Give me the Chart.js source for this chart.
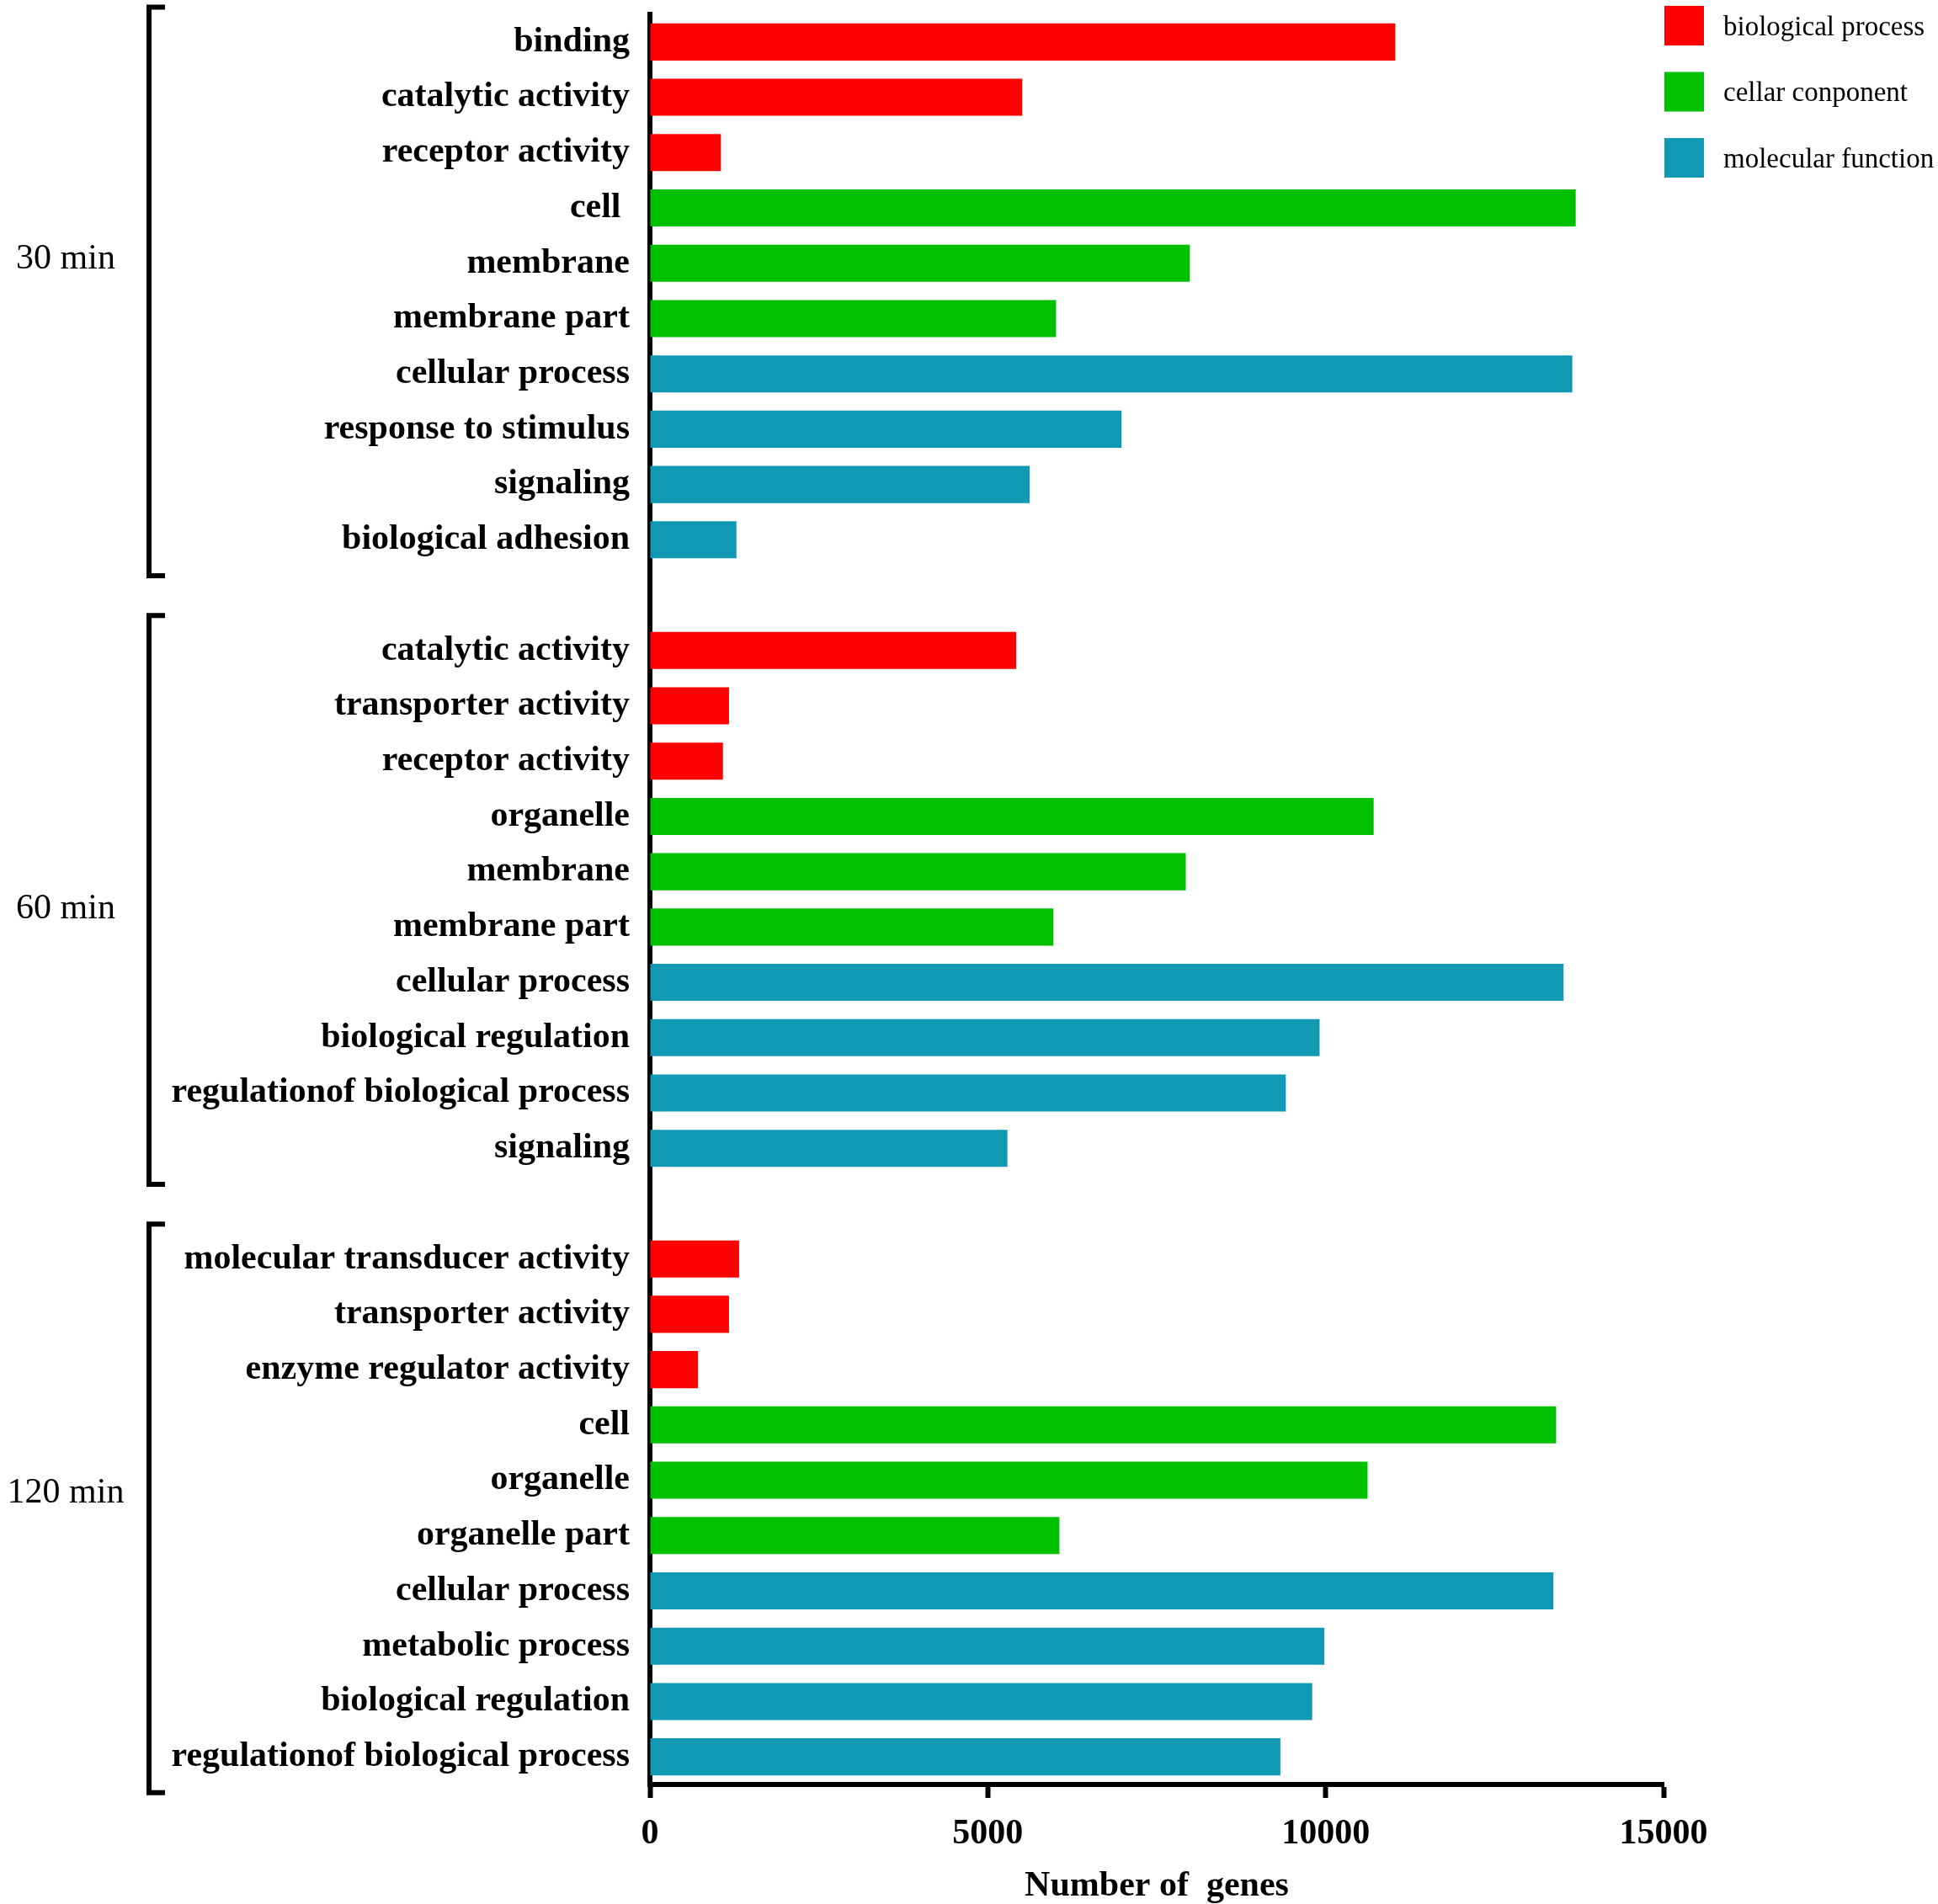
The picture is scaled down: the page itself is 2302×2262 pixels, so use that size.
<!DOCTYPE html>
<html lang="en">
<head>
  <meta charset="UTF-8">
  <title>GO terms per time point</title>
  <script src="https://cdn.jsdelivr.net/npm/chart.js"></script>
  <style>
    html, body { margin: 0; padding: 0; background: #fff; }
    canvas { display: block; }
  </style>
</head>
<body>
  <canvas id="goChart" width="2302" height="2262" style="width:2302px;height:2262px"></canvas>

  <script>
    // time points (one bracket each)
    const groupNames = ['30 min', '60 min', '120 min'];

    // GO terms, read top to bottom
    const terms30 = ['binding', 'catalytic activity', 'receptor activity', 'cell ', 'membrane', 'membrane part',
      'cellular process', 'response to stimulus', 'signaling', 'biological adhesion'];
    const terms60 = ['catalytic activity', 'transporter activity', 'receptor activity', 'organelle', 'membrane',
      'membrane part', 'cellular process', 'biological regulation', 'regulationof biological process', 'signaling'];
    const terms120 = ['molecular transducer activity', 'transporter activity', 'enzyme regulator activity', 'cell',
      'organelle', 'organelle part', 'cellular process', 'metabolic process', 'biological regulation',
      'regulationof biological process'];

    // number of genes
    const genes30 = [11030, 5510, 1050, 13700, 7990, 6010, 13650, 6980, 5620, 1280];
    const genes60 = [5420, 1170, 1080, 10710, 7930, 5970, 13520, 9910, 9410, 5290];
    const genes120 = [1320, 1170, 710, 13410, 10620, 6060, 13370, 9980, 9800, 9330];

    // class of each bar: 0 = biological process, 1 = cellar conponent, 2 = molecular function
    const class30 = [0, 0, 0, 1, 1, 1, 2, 2, 2, 2];
    const class60 = [0, 0, 0, 1, 1, 1, 2, 2, 2, 2];
    const class120 = [0, 0, 0, 1, 1, 1, 2, 2, 2, 2];

    const classNames = ['biological process', 'cellar conponent', 'molecular function'];
    const classColors = ['#ff0000', '#00c000', '#1199b4'];

    const xTicks = [0, 5000, 10000, 15000];

    // one empty row between time points
    const groups = [
      { terms: terms30, genes: genes30, cls: class30 },
      { terms: terms60, genes: genes60, cls: class60 },
      { terms: terms120, genes: genes120, cls: class120 }
    ];
    const labels = [];
    const rowClass = [];
    const rowValue = [];
    const groupRows = [];
    groups.forEach((g, gi) => {
      if (gi > 0) { labels.push(''); rowClass.push(-1); rowValue.push(null); }
      groupRows.push([labels.length, labels.length + g.terms.length - 1]);
      g.terms.forEach((t, i) => {
        labels.push(t);
        rowClass.push(g.cls[i]);
        rowValue.push(g.genes[i]);
      });
    });

    const datasets = classNames.map((name, ci) => ({
      label: name,
      data: rowValue.map((v, i) => (rowClass[i] === ci ? v : null)),
      backgroundColor: classColors[ci],
      borderWidth: 0,
      grouped: false,
      barPercentage: 0.67,
      categoryPercentage: 1
    }));

    const serif = "'Liberation Serif', 'Times New Roman', serif";

    // brackets, time point labels and the legend
    const decor = {
      id: 'decor',
      afterDraw(chart) {
        const { ctx } = chart;
        const y = chart.scales.y;
        const step = y.getPixelForValue(1) - y.getPixelForValue(0);
        const labelShift = [-38, 11, -18];
        ctx.save();
        ctx.strokeStyle = '#000';
        ctx.lineWidth = 6;
        ctx.lineCap = 'butt';
        groupRows.forEach(([a, b], gi) => {
          const top = y.getPixelForValue(a) - step * 0.63;
          const bot = y.getPixelForValue(b) + step * 0.65;
          ctx.beginPath();
          ctx.moveTo(196, top);
          ctx.lineTo(177, top);
          ctx.lineTo(177, bot);
          ctx.lineTo(196, bot);
          ctx.stroke();
          ctx.fillStyle = '#000';
          ctx.font = '42px ' + serif;
          ctx.textAlign = 'center';
          ctx.textBaseline = 'middle';
          ctx.fillText(groupNames[gi], 78, (top + bot) / 2 + labelShift[gi]);
        });

        // legend
        ctx.font = '33px ' + serif;
        ctx.textAlign = 'left';
        ctx.textBaseline = 'middle';
        chart.data.datasets.forEach((ds, i) => {
          const yy = 7 + i * 78.5;
          ctx.fillStyle = ds.backgroundColor;
          ctx.fillRect(1977, yy, 47, 47);
          ctx.fillStyle = '#000';
          ctx.fillText(ds.label, 2047, yy + 26);
        });
        ctx.restore();
      }
    };

    new Chart(document.getElementById('goChart').getContext('2d'), {
      type: 'bar',
      data: { labels: labels, datasets: datasets },
      options: {
        indexAxis: 'y',
        responsive: false,
        devicePixelRatio: 1,
        animation: false,
        layout: { padding: { top: 17, right: 326, left: 0, bottom: 0 } },
        plugins: {
          legend: { display: false },
          tooltip: { enabled: false }
        },
        scales: {
          y: {
            afterFit: (scale) => {
              scale.width = 772;
              scale.paddingTop = 0;
              scale.paddingBottom = 0;
            },
            grid: { display: false, drawTicks: false },
            border: { display: true, width: 6, color: '#000' },
            ticks: {
              autoSkip: false,
              padding: 24,
              color: '#000',
              font: { family: serif, size: 42, weight: 'bold' }
            }
          },
          x: {
            min: 0,
            max: 15000,
            afterFit: (scale) => { scale.height = 142; },
            afterBuildTicks: (scale) => { scale.ticks = xTicks.map(v => ({ value: v })); },
            grid: {
              drawOnChartArea: false,
              drawTicks: true,
              tickLength: 16,
              tickWidth: 6,
              tickColor: '#000'
            },
            border: { display: true, width: 6, color: '#000' },
            ticks: {
              padding: 18,
              color: '#000',
              font: { family: serif, size: 42, weight: 'bold' },
              callback: (v) => String(v)
            },
            title: {
              display: true,
              text: 'Number of  genes',
              color: '#000',
              font: { family: serif, size: 42, weight: 'bold', lineHeight: 1 },
              padding: { top: 0, bottom: 0 }
            }
          }
        }
      },
      plugins: [decor]
    });
  </script>
</body>
</html>
